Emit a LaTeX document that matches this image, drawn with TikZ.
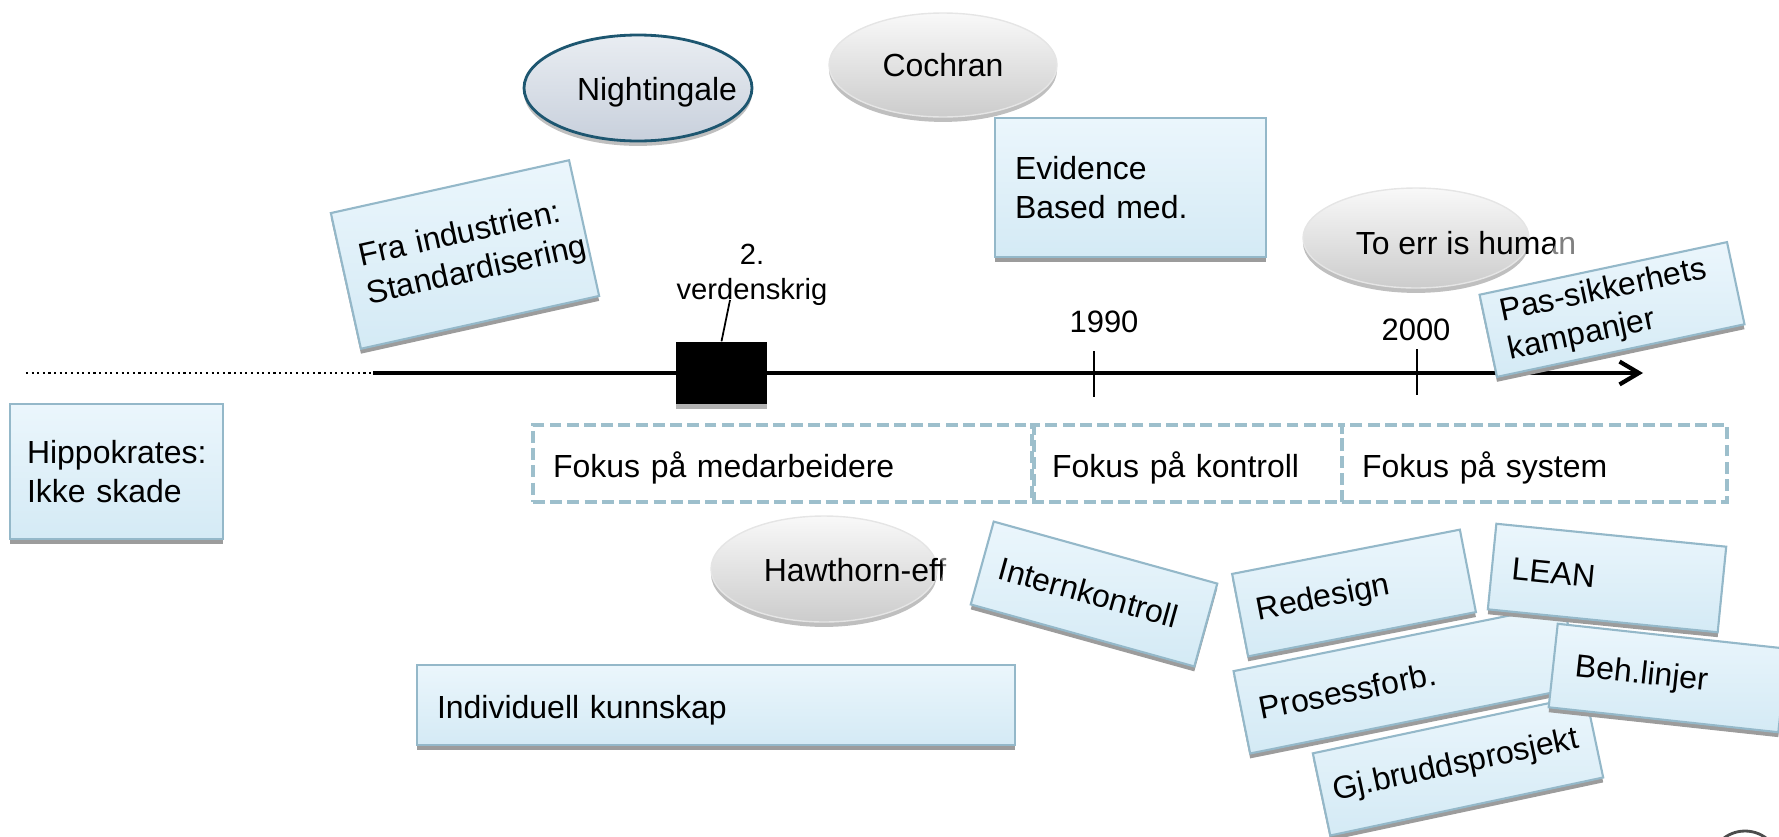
\documentclass[tikz,border=0pt]{standalone}
\usepackage{fontspec}
\setmainfont{Liberation Sans}
\usetikzlibrary{shapes.geometric, shadows, arrows.meta}

\definecolor{boxtop}{HTML}{EBF6FC}
\definecolor{boxbot}{HTML}{D4EAF5}
\definecolor{boxline}{HTML}{94B8C9}
\definecolor{dashline}{HTML}{9DBFCC}
\definecolor{nightline}{HTML}{1D5670}
\definecolor{nighttop}{HTML}{E9EDF2}
\definecolor{nightbot}{HTML}{C8D0DC}
\definecolor{shadowgray}{HTML}{9C9C9C}

\begin{document}
\begin{tikzpicture}[>={Straight Barb[length=5.5pt, width=6.5pt]},
  every node/.style={font=\fontsize{9.1}{11.1}\selectfont},
  infobox/.style={draw=boxline, line width=0.6pt, top color=boxtop, bottom color=boxbot,
    general shadow={shadow yshift=-1.4pt, fill=shadowgray}, align=left,
    inner xsep=0.2cm, inner ysep=0pt, minimum height=0.84cm},
  oval/.style={ellipse, draw=gray!20, top color=gray!5, bottom color=gray!40,
    inner sep=0pt, minimum width=2.26cm, minimum height=1.04cm,
    general shadow={shadow yshift=-1.4pt, fill=gray!50}},
  fokus/.style={draw=dashline, line width=1.1pt, dash pattern=on 3.4pt off 1.5pt,
    align=left, inner xsep=0.2cm, minimum height=0.77cm},
  oneline/.style={text height=1em, text depth=0.21em},
  fade/.style={white, opacity=0.5, even odd rule},
  year/.style={font=\fontsize{8.8}{10}\selectfont},
  tick/.style={line width=0.5pt}]
  \useasboundingbox (0,0) rectangle (17.79,8.36);
  % Tidslinje
  \coordinate (start) at (0.26,4.63);
  \coordinate (solid) at (3.73,4.63);
  \coordinate (slutt) at (16.43,4.63);
  \draw[densely dotted, line width=0.6pt] (start) -- (solid);
  \draw[->, line width=1.2pt] (solid) -- (slutt);
  \node[fill=black, minimum width=0.91cm, minimum height=0.62cm, inner sep=0pt,
    general shadow={shadow yshift=-1.4pt, fill=gray!60}] (ww2) at (7.215,4.63) {};
  \node[font=\fontsize{8.3}{10}\selectfont, align=center] (krig) at (7.52,5.61) {2.\\verdenskrig};
  \coordinate (krigpin) at (7.30,5.36);
  \draw[line width=0.5pt] (ww2.north) -- (krigpin);
  % Aarstall
  \coordinate (t90top) at (10.94,4.85);
  \coordinate (t90bot) at (10.94,4.39);
  \draw[tick] (t90top) -- (t90bot);
  \node[year] (y1990) at (11.04,5.14) {1990};
  \coordinate (t00top) at (14.17,4.87);
  \coordinate (t00bot) at (14.17,4.41);
  \draw[tick] (t00top) -- (t00bot);
  \node[year] (y2000) at (14.16,5.06) {2000};
  % Personer
  \node[oval, draw=nightline, line width=0.8pt, top color=nighttop, bottom color=nightbot,
    minimum width=2.28cm, minimum height=1.06cm] (night) at (6.38,7.48) {};
  \node (nighttxt) at (6.57,7.44) {Nightingale};
  \node[oval, minimum width=2.28cm] (cochran) at (9.43,7.71) {Cochran};
  \node[oval, minimum height=1.0cm] (toerr) at (14.16,5.98) {};
  \node (toerrtxt) at (14.66,5.93) {To err is human};
  \begin{scope}
    \clip (toerrtxt.south west) rectangle (toerrtxt.north east);
    \fill[fade] ([shift={(-0.3,-0.6)}]toerrtxt.south west) rectangle ([shift={(0.3,0.6)}]toerrtxt.north east)
      (toerr.center) ellipse (1.40cm and 0.55cm);
  \end{scope}
  % Bokser oppe
  \node[infobox, text width=2.31cm, minimum height=1.39cm] (ebm) at (11.305,6.485) {Evidence\\Based med.};
  \node[infobox, rotate=12.5, text width=2.08cm, inner xsep=0.18cm, minimum height=1.39cm]
    (industri) at (4.65,5.815) {Fra industrien:\\Standardisering};
  \node[infobox, rotate=12, text width=2.19cm, inner xsep=0.17cm]
    (kampanje) at (16.12,5.265) {Pas-sikkerhets\\kampanjer};
  \node[infobox, text width=1.79cm, inner xsep=0.17cm, minimum height=1.35cm]
    (hippo) at (1.165,3.645) {Hippokrates:\\Ikke skade};
  % Fokus
  \node[fokus, oneline, text width=4.61cm] (medarb) at (7.835,3.725) {Fokus på medarbeidere};
  \node[fokus, oneline, text width=2.70cm] (kontroll) at (11.87,3.725) {Fokus på kontroll};
  \node[fokus, oneline, text width=3.45cm] (system) at (15.345,3.725) {Fokus på system};
  % Bokser nede
  \node[oval, minimum height=1.06cm] (hawth) at (8.24,2.67) {};
  \node (hawthtxt) at (8.55,2.66) {Hawthorn-eff};
  \begin{scope}
    \clip (hawthtxt.south west) rectangle (hawthtxt.north east);
    \fill[fade] ([shift={(-0.3,-0.6)}]hawthtxt.south west) rectangle ([shift={(0.3,0.6)}]hawthtxt.north east)
      (hawth.center) ellipse (1.19cm and 0.55cm);
  \end{scope}
  \node[infobox, oneline, text width=5.58cm, minimum height=0.80cm] (indiv) at (7.16,1.31) {Individuell kunnskap};
  \node[infobox, rotate=-15.5, text width=1.96cm, inner xsep=0.18cm, minimum height=0.86cm]
    (intern) at (10.94,2.42) {Internkontroll};
  \node[infobox, rotate=11, text width=1.98cm, inner xsep=0.17cm]
    (redesign) at (13.54,2.43) {Redesign};
  \node[infobox, rotate=12, text width=2.55cm, inner xsep=0.12cm]
    (gjbrudd) at (14.58,0.706) {Gj.bruddsprosjekt};
  \node[infobox, rotate=11.4, text width=3.01cm, inner xsep=0.18cm]
    (prosess) at (14.07,1.57) {Prosessforb.};
  \node[infobox, rotate=-5.7, text width=1.91cm, minimum height=0.86cm]
    (lean) at (16.07,2.58) {LEAN};
  \node[infobox, rotate=-6.2, text width=1.87cm, inner xsep=0.22cm]
    (behlinjer) at (16.68,1.58) {Beh.linjer};
  % Hjoerne
  \draw[gray!60!black, line width=0.8pt] (17.45,-0.30) circle (0.35);
\end{tikzpicture}
\end{document}
